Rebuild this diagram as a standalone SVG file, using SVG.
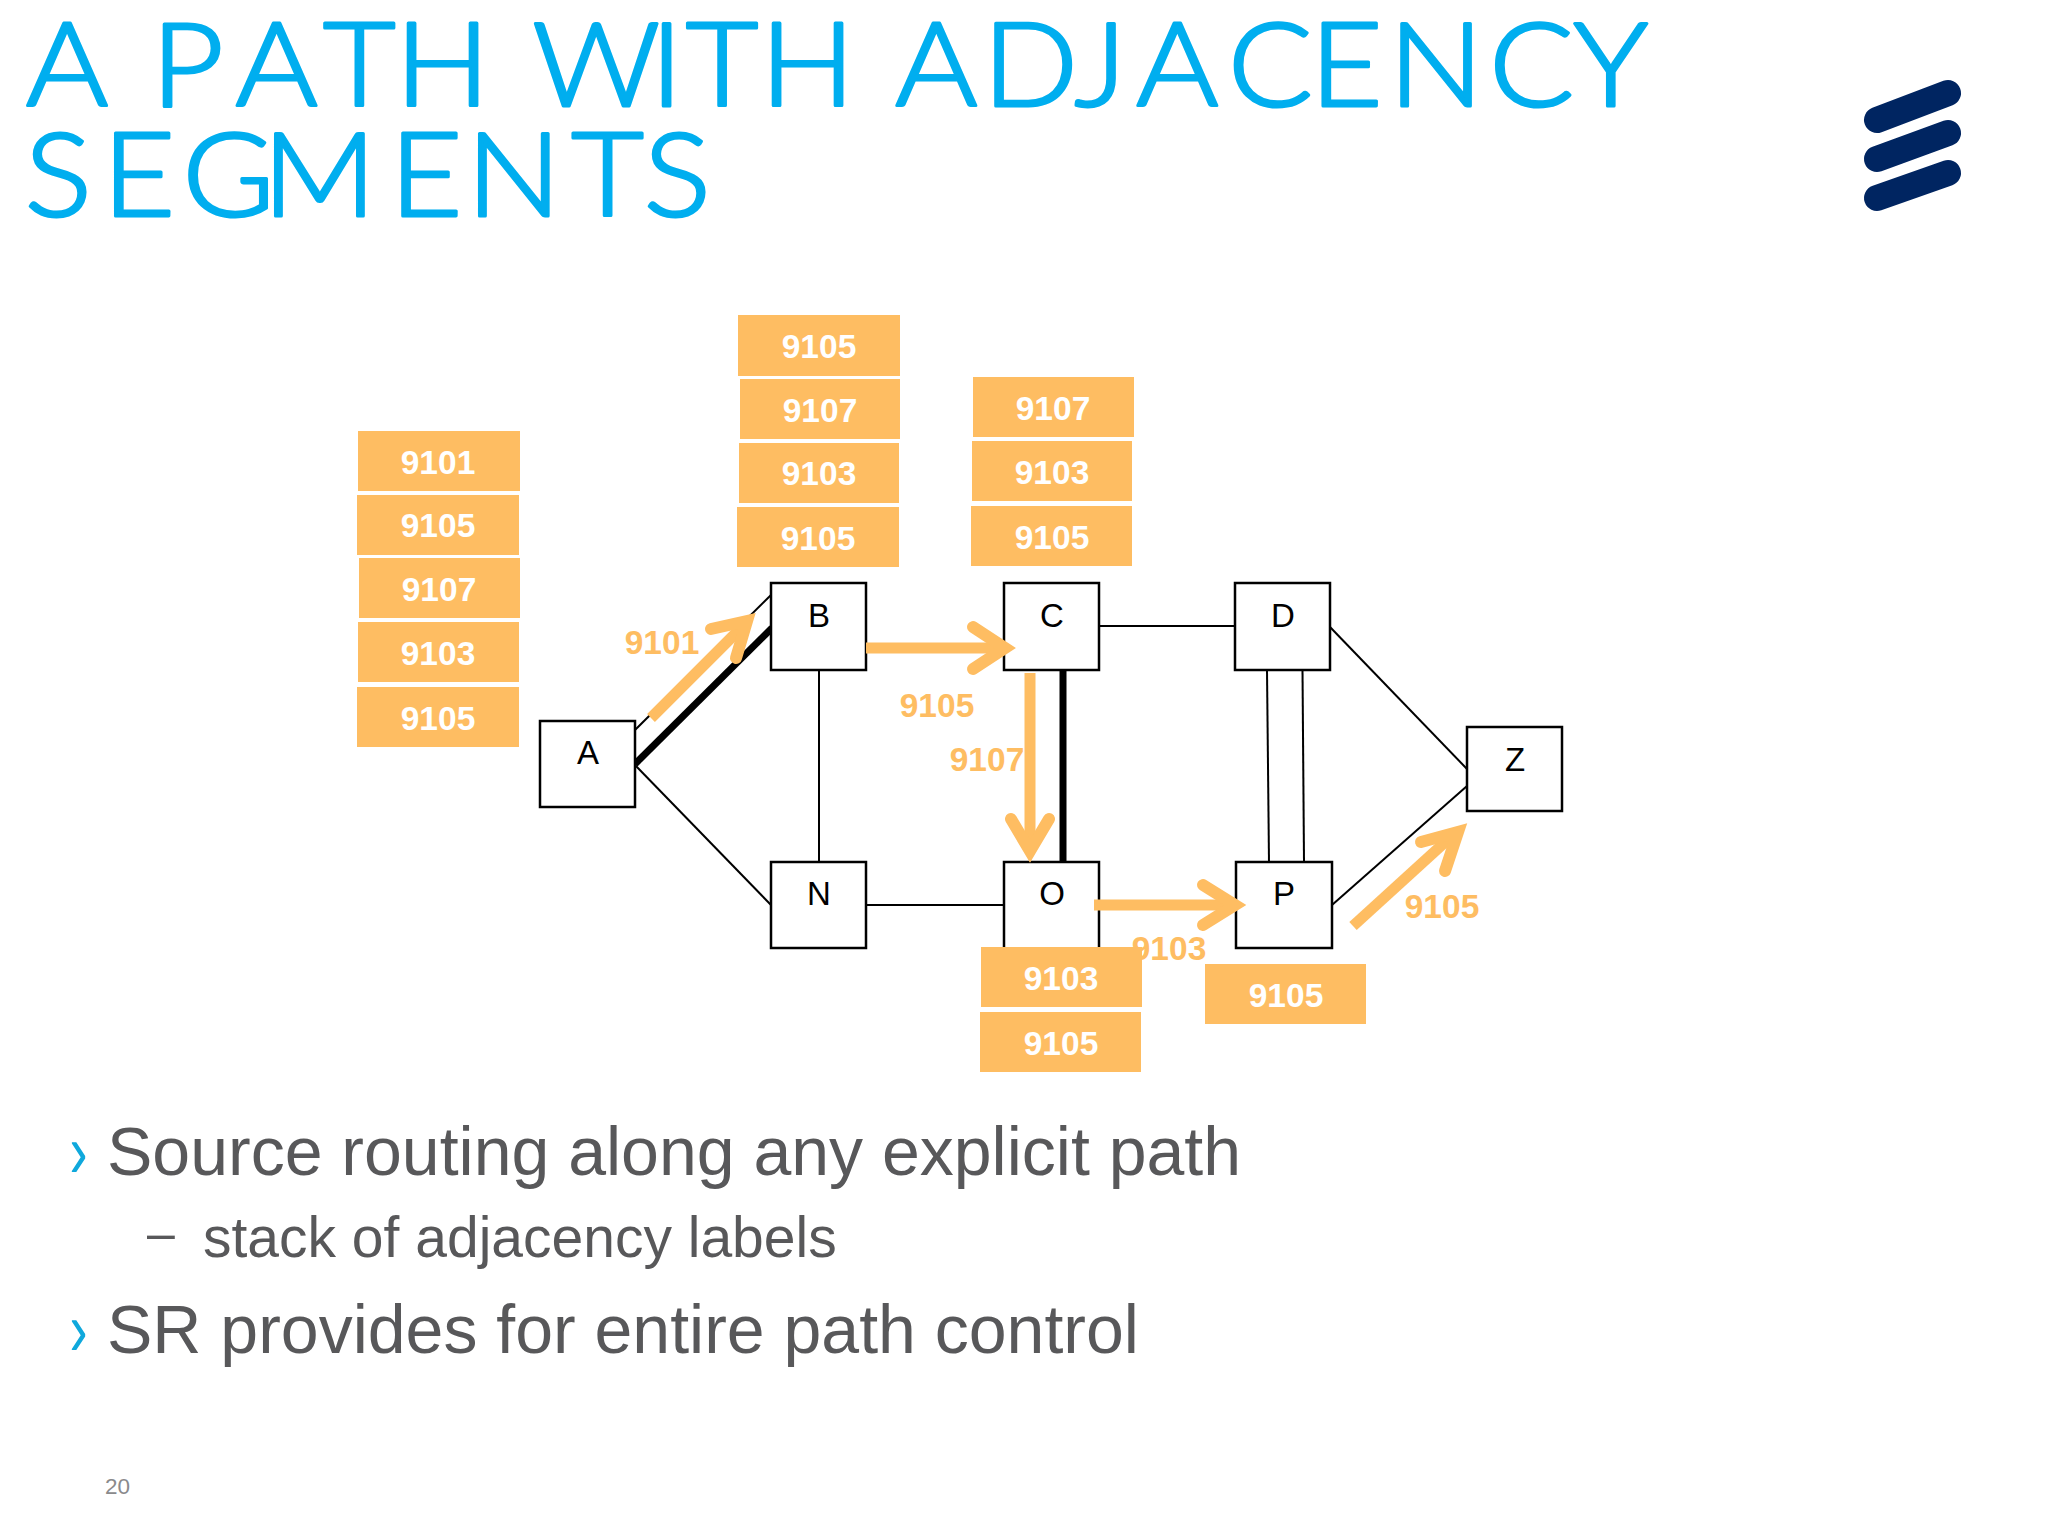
<svg xmlns="http://www.w3.org/2000/svg" width="2048" height="1536" viewBox="0 0 2048 1536">
<style>
.node rect{fill:#fff;stroke:#000;stroke-width:2.5}
.node text{font:33px "Liberation Sans",Arial,sans-serif;fill:#000;text-anchor:middle}
.stack rect{fill:#FEBD62}
.stack text{font:bold 33.5px "Liberation Sans",Arial,sans-serif;fill:#fff;text-anchor:middle}
.lbl{font:bold 33.5px "Liberation Sans",Arial,sans-serif;fill:#FEBD62;text-anchor:middle}
.thin{stroke:#000;stroke-width:2;fill:none}
.thick{stroke:#000;stroke-width:7;fill:none}
.arrow{stroke:#FEBD62;stroke-width:11;fill:none}
.barb{stroke:#FEBD62;stroke-width:12;fill:none;stroke-linecap:round;stroke-linejoin:miter}
.title{font-family:Lato,"Liberation Sans",sans-serif;font-weight:300;font-size:116px;fill:#00AEEF;stroke:#00AEEF;stroke-width:3;stroke-linejoin:round}
.body{font-family:"Liberation Sans",Arial,sans-serif;fill:#58585A}
.chev{font-family:"Liberation Sans",Arial,sans-serif;font-size:100px;fill:#0FA8DC}
.logo{stroke:#002561;stroke-width:26;stroke-linecap:round}
</style>
<rect width="2048" height="1536" fill="#fff"/>
<text class="title" transform="scale(1.08,1)" y="106" x="24 102 140 218 299 366 444 493 602 635 704 782 829 910 995 1052 1137 1213 1286 1379 1457">A PATH WITH ADJACENCY</text>
<text class="title" transform="scale(1.08,1)" y="216" x="23 95 169 243 361 432 529 596">SEGMENTS</text>
<g id="logo">
<line class="logo" x1="1877" y1="120" x2="1948" y2="93"/>
<line class="logo" x1="1877" y1="159" x2="1948" y2="133"/>
<line class="logo" x1="1877" y1="198" x2="1948" y2="173"/>
</g>
<text class="lbl" x="1169" y="960">9103</text>
<g id="connectors">
<line class="thin" x1="635" y1="730" x2="771" y2="595"/>
<line class="thick" x1="635" y1="764" x2="772" y2="628"/>
<line class="thin" x1="635" y1="765" x2="771" y2="905"/>
<line class="thin" x1="819" y1="670" x2="819" y2="861"/>
<line class="thin" x1="1099" y1="626" x2="1235" y2="626"/>
<line class="thick" x1="1063" y1="670" x2="1063" y2="862"/>
<line class="thin" x1="866" y1="905" x2="1004" y2="905"/>
<line class="thin" x1="1267" y1="670" x2="1269" y2="862"/>
<line class="thin" x1="1302.500" y1="670" x2="1304" y2="862"/>
<line class="thin" x1="1330" y1="627" x2="1467" y2="769"/>
<line class="thin" x1="1332" y1="905" x2="1467" y2="786"/>
</g>
<g id="node-A" class="node"><rect x="540" y="721" width="95" height="86"/><text x="588" y="764">A</text></g>
<g id="node-B" class="node"><rect x="771" y="583" width="95" height="87"/><text x="819" y="627">B</text></g>
<g id="node-C" class="node"><rect x="1004" y="583" width="95" height="87"/><text x="1052" y="627">C</text></g>
<g id="node-D" class="node"><rect x="1235" y="583" width="95" height="87"/><text x="1283" y="627">D</text></g>
<g id="node-N" class="node"><rect x="771" y="862" width="95" height="86"/><text x="819" y="905">N</text></g>
<g id="node-O" class="node"><rect x="1004" y="862" width="95" height="100"/><text x="1052" y="905">O</text></g>
<g id="node-P" class="node"><rect x="1236" y="862" width="96" height="86"/><text x="1284" y="905">P</text></g>
<g id="node-Z" class="node"><rect x="1467" y="727" width="95" height="84"/><text x="1515" y="771">Z</text></g>
<g id="stack-A" class="stack">
<rect x="358" y="431" width="162" height="60"/><text x="438" y="474">9101</text>
<rect x="357" y="495" width="162" height="60"/><text x="438" y="537">9105</text>
<rect x="359" y="558" width="161" height="60"/><text x="439" y="601">9107</text>
<rect x="358" y="622" width="161" height="60"/><text x="438" y="665">9103</text>
<rect x="357" y="687" width="162" height="60"/><text x="438" y="730">9105</text>
</g>
<g id="stack-B" class="stack">
<rect x="738" y="315" width="162" height="61"/><text x="819" y="358">9105</text>
<rect x="740" y="379" width="160" height="60"/><text x="820" y="422">9107</text>
<rect x="739" y="443" width="160" height="60"/><text x="819" y="485">9103</text>
<rect x="737" y="507" width="162" height="60"/><text x="818" y="550">9105</text>
</g>
<g id="stack-C" class="stack">
<rect x="973" y="377" width="161" height="60"/><text x="1053" y="420">9107</text>
<rect x="972" y="441" width="160" height="60"/><text x="1052" y="484">9103</text>
<rect x="971" y="506" width="161" height="60"/><text x="1052" y="549">9105</text>
</g>
<g id="stack-O" class="stack">
<rect x="981" y="947" width="161" height="60"/><text x="1061" y="990">9103</text>
<rect x="980" y="1012" width="161" height="60"/><text x="1061" y="1055">9105</text>
</g>
<g id="stack-P" class="stack">
<rect x="1205" y="964" width="161" height="60"/><text x="1286" y="1007">9105</text>
</g>
<text class="lbl" x="662" y="654">9101</text>
<text class="lbl" x="937" y="717">9105</text>
<text class="lbl" x="987" y="771">9107</text>
<text class="lbl" x="1442" y="918">9105</text>
<g id="path-arrows">
<line class="arrow" x1="651" y1="718" x2="744" y2="625"/><polyline class="barb" points="711,629 747,621 736,658"/>
<line class="arrow" x1="866" y1="648" x2="1000" y2="648"/><polyline class="barb" points="973,627 1005,648 973,669"/>
<line class="arrow" x1="1030" y1="673" x2="1030" y2="848"/><polyline class="barb" points="1011,819 1030,851 1049,819"/>
<line class="arrow" x1="1094" y1="905" x2="1230" y2="905"/><polyline class="barb" points="1203,885 1235,905 1203,925"/>
<line class="arrow" x1="1353" y1="926" x2="1454" y2="834"/><polyline class="barb" points="1421,842 1458,832 1445,871"/>
</g>
<text class="chev" transform="translate(69.400,1177) scale(.54,.76)">›</text>
<text class="body" x="107" y="1175" font-size="68">Source routing along any explicit path</text>
<text class="body" x="147" y="1250" font-size="50">–</text>
<text class="body" x="203" y="1257" font-size="57">stack of adjacency labels</text>
<text class="chev" transform="translate(69.400,1355) scale(.54,.76)">›</text>
<text class="body" x="107" y="1353" font-size="68">SR provides for entire path control</text>
<text x="105" y="1494" font-family="Liberation Sans, Arial, sans-serif" font-size="22.500" fill="#8A8A8C">20</text>
</svg>
